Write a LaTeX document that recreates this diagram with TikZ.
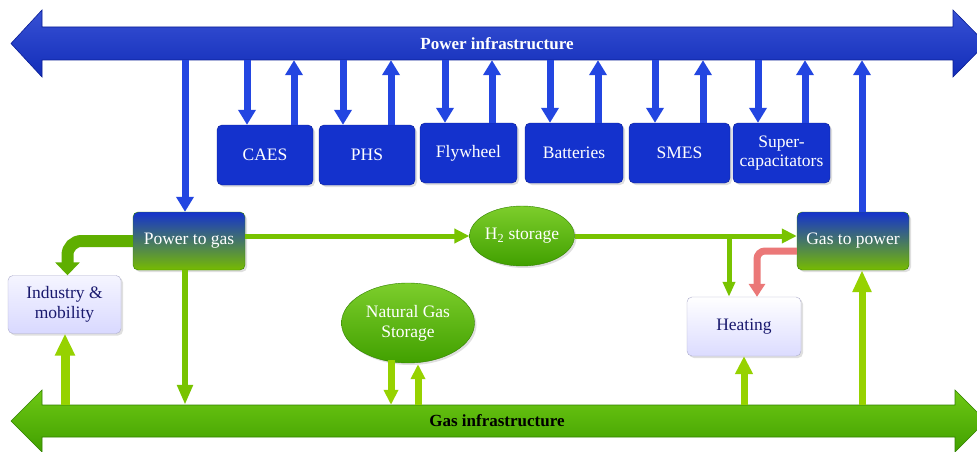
\documentclass[tikz,border=0pt]{standalone}
\usepackage{fontspec}
\setmainfont{Liberation Serif}
\usetikzlibrary{arrows.meta,shapes.geometric,shadows}
\definecolor{bblue}{RGB}{20,50,205}
\definecolor{bdark}{RGB}{10,30,150}
\definecolor{barrowc}{RGB}{35,70,225}
\definecolor{gbustop}{RGB}{110,200,20}
\definecolor{gbusbot}{RGB}{65,160,0}
\definecolor{gedge}{RGB}{50,130,0}
\definecolor{lgreen}{RGB}{120,195,0}
\definecolor{ygreen}{RGB}{150,210,0}
\definecolor{bgreen}{RGB}{95,175,0}
\definecolor{redc}{RGB}{235,120,120}
\definecolor{navy}{RGB}{25,25,110}
\tikzset{
  shad/.style={drop shadow={opacity=0.25,shadow xshift=2pt,shadow yshift=-2pt}},
  sbox/.style={rectangle, rounded corners=5pt, fill=bblue, draw=bdark, text=white,
    minimum height=60pt, inner sep=2pt, align=center, shad},
  gbox/.style={rectangle, rounded corners=5pt, top color=bblue, bottom color=bgreen!85!yellow,
    draw=gedge, text=white, minimum width=112pt, minimum height=58pt, align=center, shad},
  lbox/.style={rectangle, rounded corners=5pt, draw=navy!35, text=navy,
    minimum width=114pt, minimum height=58pt, align=center, shad},
  gell/.style={ellipse, inner sep=0pt, top color=gbustop!90!white, bottom color=gbusbot,
    draw=gedge, text=white, align=center, shad},
  barrow/.style={draw=barrowc, line width=7pt, -{Triangle[width=17pt,length=15pt]}},
  garrow/.style={draw=lgreen, line width=5pt, -{Triangle[width=14pt,length=15pt]}},
  yarrow/.style={draw=ygreen, line width=7pt, -{Triangle[width=17pt,length=18pt]}},
  bigarrow/.style={draw=bgreen, line width=12pt, rounded corners=14pt, -{Triangle[width=24pt,length=13pt]}},
  rarrow/.style={draw=redc, line width=7pt, rounded corners=8pt, -{Triangle[width=16pt,length=13pt]}},
  bustext/.style={rectangle, minimum width=913pt, inner sep=0pt, font=\fontsize{17}{20}\selectfont\bfseries}
}
\begin{document}
\begin{tikzpicture}[x=1pt,y=-1pt, font=\fontsize{17.5}{20}\selectfont]
\useasboundingbox (0,0) rectangle (977,452);
\fill[white] (0,0) rectangle (977,452);

% power bus
\path[top color=bblue!85!white, bottom color=bblue!90!black, draw=bdark, line width=0.6pt]
  (11,43.5) -- (42,10) -- (42,27) -- (953,27) -- (953,10) -- (986,43.5)
  -- (953,77) -- (953,60) -- (42,60) -- (42,77) -- cycle;
\node[bustext, minimum height=33pt, text=white] (pbus) at (497,43.5) {Power infrastructure};

% gas bus
\path[top color=gbustop, bottom color=gbusbot, draw=gedge, line width=0.6pt]
  (11,421) -- (42,390) -- (42,405) -- (955,405) -- (955,390) -- (986,421)
  -- (955,452) -- (955,437) -- (42,437) -- (42,452) -- cycle;
\node[bustext, minimum height=32pt, text=black] (gbus) at (497,421) {Gas infrastructure};

% storage boxes
\node[sbox, minimum width=96pt] (caes) at (265,155) {CAES};
\node[sbox, minimum width=96pt] (phs) at (367,155) {PHS};
\node[sbox, minimum width=97pt] (fly) at (468.5,153) {Flywheel};
\node[sbox, minimum width=98pt] (bat) at (574,153) {Batteries};
\node[sbox, minimum width=101pt] (smes) at (679.5,153) {SMES};
\node[sbox, minimum width=97pt] (sup) at (781.5,153) {Super-\\[-1pt]capacitators};

% main nodes
\node[gbox] (p2g) at (189,241) {Power to gas};
\node[gbox] (g2p) at (853,241) {Gas to power};
\node[lbox, top color=blue!4!white, bottom color=blue!15!white, minimum width=113pt] (ind) at (64.5,304.5) {Industry \&\\mobility};
\node[lbox, top color=white, bottom color=blue!14!white, minimum height=59pt] (heat) at (744,326.5) {Heating};
\node[gell, minimum width=95pt, minimum height=60pt] (h2) at (522,236) {H\textsubscript{2} storage};
\node[gell, minimum width=133pt, minimum height=80pt] (ngs) at (408,323) {Natural Gas\\Storage};

% storage arrows
\foreach \n/\d/\u in {caes/-18/29, phs/-24/24, fly/-23.5/23.5, bat/-24/24, smes/-24.5/23.5, sup/-23.5/23.5}{
  \draw[barrow] ([xshift=\d pt]\n.north |- pbus.south) -- ([xshift=\d pt]\n.north);
  \draw[barrow] ([xshift=\u pt]\n.north) -- ([xshift=\u pt]\n.north |- pbus.south);
}
\draw[barrow] ([xshift=-4pt]p2g.north |- pbus.south) -- ([xshift=-4pt]p2g.north);
\draw[barrow] ([xshift=9pt]g2p.north) -- ([xshift=9pt]g2p.north |- pbus.south);

% gas flows
\draw[garrow] ([yshift=5pt]p2g.east) -- (h2.west);
\draw[garrow] (h2.east) -- (h2.east -| g2p.west);
\draw[garrow, line width=5pt, -{Triangle[width=12pt,length=15pt]}] ([xshift=-15pt]heat.north |- h2.east) -- ([xshift=-15pt]heat.north);
\draw[bigarrow] (p2g.west) -| ([xshift=3pt]ind.north);
\draw[rarrow] ([yshift=-10pt]g2p.west) -| ([xshift=13pt]heat.north);
\draw[garrow, line width=6pt, -{Triangle[width=15pt,length=20pt]}] ([xshift=-4pt]p2g.south) -- ([xshift=-4pt]p2g.south |- gbus.north);

% from gas bus
\draw[yarrow, line width=9pt, -{Triangle[width=19pt,length=22pt]}] ([xshift=0.5pt]ind.south |- gbus.north) -- ([xshift=0.5pt]ind.south);
\draw[yarrow] (heat.south |- gbus.north) -- (heat.south);
\draw[yarrow, -{Triangle[width=18pt,length=22pt]}] ([xshift=9pt]g2p.south |- gbus.north) -- ([xshift=9pt]g2p.south);
\coordinate (ngsd) at ([xshift=-17pt,yshift=3pt]ngs.south);
\draw[yarrow, line width=7pt, -{Triangle[width=14pt,length=15pt]}] (ngsd) -- (ngsd |- gbus.north);
\draw[yarrow, line width=7pt, -{Triangle[width=14pt,length=15pt]}] ([xshift=10pt]ngs.south |- gbus.north) -- ([xshift=10pt,yshift=-1pt]ngs.south);
\end{tikzpicture}
\end{document}
